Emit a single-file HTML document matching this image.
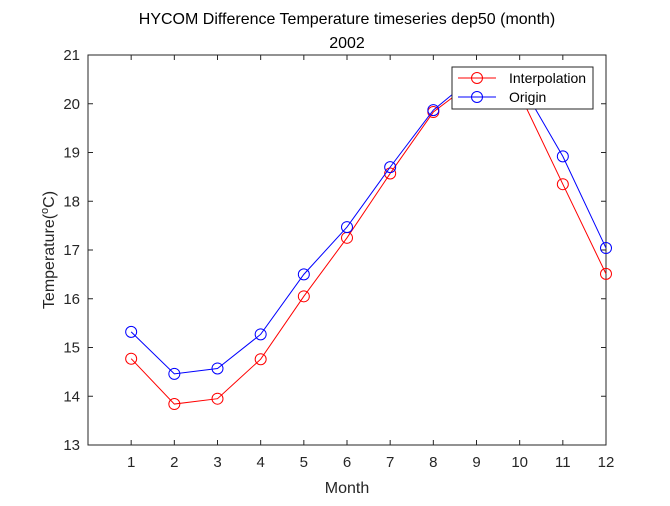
<!DOCTYPE html>
<html><head><meta charset="utf-8"><style>
body{margin:0;background:#fff;}
svg{font-family:"Liberation Sans",sans-serif;}
</style></head><body>
<svg width="670" height="501">
<rect width="670" height="501" fill="#fff"/>
<g id="plot"></g>
</svg>
<script>
const months=[1,2,3,4,5,6,7,8,9,10,11,12];
const interpolation=[14.77,13.84,13.95,14.76,16.05,17.25,18.57,19.83,20.5,20.2,18.35,16.51];
const origin=[15.32,14.46,14.57,15.27,16.5,17.47,18.7,19.87,20.6,20.45,18.92,17.04];
const yTicks=[13,14,15,16,17,18,19,20,21];
const xTicks=[1,2,3,4,5,6,7,8,9,10,11,12];
const L=88,R=606,T=55,B=445;
const sx=v=>L+(v-0)/(12-0)*(R-L);
const sy=v=>B-(v-13)/(21-13)*(B-T);
const g=document.getElementById('plot');
const NS='http://www.w3.org/2000/svg';
function mk(tag,attrs,parent){const e=document.createElementNS(NS,tag);for(const k in attrs)e.setAttribute(k,attrs[k]);(parent||g).appendChild(e);return e;}
const ax=mk('g',{});


mk('rect',{x:L,y:T,width:R-L,height:B-T,fill:'none',stroke:'#262626','stroke-width':1},ax);
yTicks.forEach(v=>{
  const y=sy(v);
  mk('line',{x1:L,x2:L+5,y1:y,y2:y,stroke:'#262626'},ax);
  mk('line',{x1:R,x2:R-5,y1:y,y2:y,stroke:'#262626'},ax);
  const t=mk('text',{x:L-8,y:y+5,'text-anchor':'end','font-size':15,fill:'#262626'},ax);
  t.textContent=v;
  
  
});
xTicks.forEach(v=>{
  const x=sx(v);
  mk('line',{x1:x,x2:x,y1:B,y2:B-5,stroke:'#262626'},ax);
  mk('line',{x1:x,x2:x,y1:T,y2:T+5,stroke:'#262626'},ax);
  const t=mk('text',{x:x,y:B+22,'text-anchor':'middle','font-size':15,fill:'#262626'},ax);
  t.textContent=v;
  
  
});
function series(vals,color,name){
  const s=mk('g',{});
  
  
  mk('polyline',{points:vals.map((v,i)=>sx(months[i])+','+sy(v)).join(' '),fill:'none',stroke:color,'stroke-width':1},s);
  vals.forEach((v,i)=>{
    const c=mk('circle',{cx:sx(months[i]),cy:sy(v),r:5.5,fill:'none',stroke:color,'stroke-width':1},s);
    
    
  });
}
series(interpolation,'#ff0000','interpolation-series');
series(origin,'#0000ff','origin-series');
// legend
const lg=mk('g',{});


mk('rect',{x:452,y:67,width:141,height:42,fill:'#fff',stroke:'#262626','stroke-width':1},lg);
[['Interpolation','#ff0000',78],['Origin','#0000ff',97]].forEach(([n,c,y])=>{
  mk('line',{x1:458,x2:496,y1:y,y2:y,stroke:c},lg);
  mk('circle',{cx:477,cy:y,r:5.5,fill:'none',stroke:c},lg);
  const t=mk('text',{x:509,y:y+5,'font-size':14,fill:'#000'},lg);
  t.textContent=n;
  
  
});
function txt(s,attrs,name){const t=mk('text',attrs);t.textContent=s;}
txt('HYCOM Difference Temperature timeseries dep50 (month)',{x:347,y:24,'text-anchor':'middle','font-size':16,fill:'#000'},'chart-title');
txt('2002',{x:347,y:48,'text-anchor':'middle','font-size':16,fill:'#000'},'chart-subtitle');
txt('Month',{x:347,y:493,'text-anchor':'middle','font-size':16,fill:'#262626'},'x-axis-title');
const yl=mk('text',{x:0,y:0,'text-anchor':'middle','font-size':16,fill:'#262626',transform:'translate(54,250) rotate(-90)'});
yl.innerHTML='Temperature(<tspan dy="-6" font-size="11">o</tspan><tspan dy="6">C)</tspan>';


</script>
</body></html>
